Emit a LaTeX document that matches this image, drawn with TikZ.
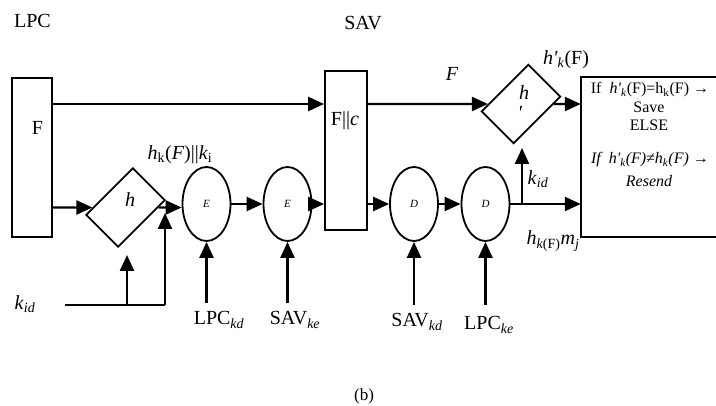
\documentclass[tikz,border=0pt]{standalone}
\usepackage{fontspec}
\setmainfont{Liberation Serif}
\usetikzlibrary{arrows.meta,shapes.geometric}
\newcommand{\sq}{\textquotesingle}
\tikzset{
  arr/.style={line width=2.4pt,-{Triangle[length=16pt,width=14pt]}},
  ln/.style={line width=2.4pt},
  shp/.style={draw,line width=1.8pt,inner sep=0pt},
  dia/.style={shp,rectangle,rotate=45,minimum width=66pt,minimum height=45pt},
  ell/.style={shp,ellipse,minimum width=48pt,minimum height=74pt,font=\fontsize{11}{13}\selectfont\itshape},
  big/.style={inner sep=0pt,font=\fontsize{20}{23}\selectfont},
  small/.style={inner sep=0pt,font=\fontsize{16}{19}\selectfont},
}
\begin{document}
\begin{tikzpicture}[x=1pt,y=-1pt]
\useasboundingbox (0,0) rectangle (716,406);
% boxes
\node[shp,minimum width=40pt,minimum height=159pt] (Fbox) at (32,157.5) {};
\node[shp,minimum width=42pt,minimum height=159pt] (Mbox) at (346,150.5) {};
\node[inner sep=0pt,minimum width=135pt,minimum height=160pt] (RB) at (648.5,157) {};
\draw[line width=1.8pt] (RB.north east) -- (RB.north west) -- (RB.south west) -- (RB.south east);
% diamonds
\node[dia] (hd) at (125.5,207.5) {};
\node[dia] (hp) at (521,104) {};
% ellipses
\node[ell] (E1) at (206.5,204) {E};
\node[ell] (E2) at (287.5,204) {E};
\node[ell] (D1) at (414,204) {D};
\node[ell] (D2) at (485.5,204) {D};
% texts
\node[big] (tLPC) at (32.5,21) {LPC};
\node[big] (tSAV) at (363,23) {SAV};
\node[big] (tF) at (37.5,128) {F};
\node[big] (tFc) at (345,121) {F||\textit{c}};
\node[big] (th) at (130,200) {\textit{h}};
\node[big] (thp) at (524,93) {\textit{h}};
\node[big] (thq) at (520,113) {\textit{\sq}};
\node[big] (thk) at (180,155) {\textit{h}\textsubscript{k}(\textit{F})||\textit{k}\textsubscript{i}};
\node[big] (tFi) at (452,74) {\textit{F}};
\node[big] (thpk) at (566,60) {\textit{h\sq}\textsubscript{\textit{k}}(F)};
\node[big] (tkid1) at (538,179) {\textit{k}\textsubscript{\textit{id}}};
\node[big] (thm) at (553,241) {\textit{h}\textsubscript{\textit{k}(F)}\textit{m}\textsubscript{\textit{j}}};
\node[big] (tkid2) at (25,304) {\textit{k}\textsubscript{\textit{id}}};
\node[big] (tLkd) at (219,320) {LPC\textsubscript{\textit{kd}}};
\node[big] (tSke) at (295,320) {SAV\textsubscript{\textit{ke}}};
\node[big] (tSkd) at (417,322) {SAV\textsubscript{\textit{kd}}};
\node[big] (tLke) at (489,325) {LPC\textsubscript{\textit{ke}}};
\node[big,font=\fontsize{17}{20}\selectfont] (tb) at (364,396) {(b)};
% right box text
\node[small] (r1) at (650,90) {If\enspace\textit{h\sq}\textsubscript{\textit{k}}(F)=h\textsubscript{k}(F) →};
\node[small] (r2) at (649,107) {Save};
\node[small] (r3) at (649,125) {ELSE};
\node[small,font=\fontsize{16}{19}\selectfont\itshape] (r4) at (650,160) {If\enspace h\sq\textsubscript{k}(F)≠h\textsubscript{k}(F) →};
\node[small,font=\fontsize{16}{19}\selectfont\itshape] (r5) at (649,181) {Resend};
% connectors
\draw[arr] (Fbox.east |- hp.center) -- (Mbox.west |- hp.center);
\draw[arr] (Mbox.east |- hp.center) -- (hp);
\draw[arr] (hp) -- (RB.west |- hp.center);
\draw[arr] (Fbox.east |- hd.center) -- (hd);
\draw[arr] (hd) -- (E1.west |- hd.center);
\draw[arr] (E1.east) -- (E2.west);
\draw[arr] (E2.east) -- (Mbox.west |- E2.east);
\draw[arr] (Mbox.east |- D1.west) -- (D1.west);
\draw[arr] (D1.east) -- (D2.west);
\draw[arr] (D2.east) -- (RB.west |- D2.east);
\coordinate (j) at (522,204);
\coordinate (jt) at (522,148);
\draw[arr] (j) -- (jt);
% bottom-left key lines
\coordinate (k0) at (65,305);
\coordinate (k1) at (127,305);
\coordinate (k2) at (165,305);
\draw[ln] (k0) -- (k2);
\draw[arr] (k1) -- (127,255);
\draw[arr] (k2) -- (165,213);
% key inputs
\draw[arr] (E1.south |- 0,303) -- (E1.south);
\draw[arr] (E2.south |- 0,303) -- (E2.south);
\draw[arr] (D1.south |- 0,305) -- (D1.south);
\draw[arr] (D2.south |- 0,305) -- (D2.south);
\end{tikzpicture}
\end{document}
